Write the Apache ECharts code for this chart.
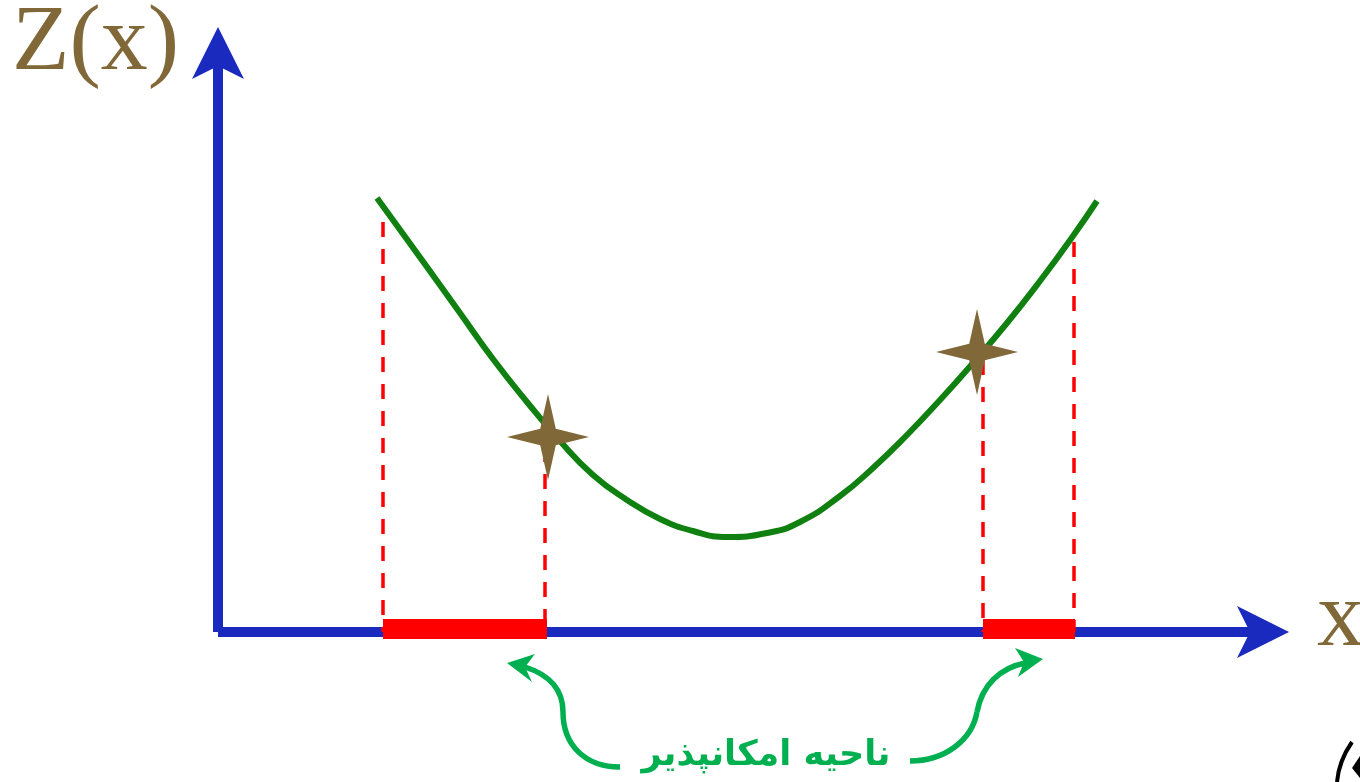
<!DOCTYPE html>
<html>
<head>
<meta charset="utf-8">
<script src="https://cdn.jsdelivr.net/npm/echarts@6/dist/echarts.min.js"></script>
<style>
  html, body { margin: 0; padding: 0; background: #fff; }
  #chart { width: 1360px; height: 782px; }
</style>
</head>
<body>
<div id="chart"></div>
<script>
// curve Z(x) (arbitrary units)
const curveX = [159, 209, 242, 275, 309, 342, 375, 409, 442, 475, 509, 549, 582, 622, 655, 689, 722, 755, 789, 822, 855, 879];
const curveY = [434, 365, 319, 273, 230, 191, 157, 132, 113, 101, 95, 99, 110, 136, 164, 197, 232, 269, 309, 351, 396, 431];

// dashed projections down to the x axis
const dropX = [165, 327, 765, 856];
const dropTop = [410, 185, 272, 390];

// infeasible zones on the x axis
const zoneStart = [165, 765];
const zoneEnd = [329, 857];

// marked points
const starX = [330, 759];
const starY = [195, 280];

const yLabel = 'Z(x)';
const xLabel = 'x';
const zoneLabel = 'ناحیه امکانپذیر';

const brown = '#806838';
const blue = '#1a29be';
const green = '#00b050';

const chart = echarts.init(document.getElementById('chart'));

const series = [];

dropX.forEach(function (x, i) {
  series.push({
    type: 'line',
    data: [[x, dropTop[i]], [x, 0]],
    symbol: 'none',
    clip: false,
    z: 3,
    lineStyle: { color: '#ff0000', width: 3.5, type: [15, 12] }
  });
});

series.push({
  type: 'line',
  data: curveX.map(function (x, i) { return [x, curveY[i]]; }),
  smooth: true,
  symbol: 'none',
  clip: false,
  z: 4,
  lineStyle: { color: '#108010', width: 6 }
});

zoneStart.forEach(function (x, i) {
  series.push({
    type: 'line',
    data: [[x, 3], [zoneEnd[i], 3]],
    symbol: 'none',
    clip: false,
    z: 5,
    lineStyle: { color: '#ff0000', width: 20, cap: 'butt' }
  });
});

series.push({
  type: 'scatter',
  data: starX.map(function (x, i) { return [x, starY[i]]; }),
  symbol: 'path://M0,-10 L1.9,-1.9 L10,0 L1.9,1.9 L0,10 L-1.9,1.9 L-10,0 L-1.9,-1.9 Z',
  symbolSize: [82, 86],
  clip: false,
  z: 6,
  itemStyle: { color: brown, opacity: 1 }
});

const arrowLine = { stroke: green, lineWidth: 5.5, fill: null };
const axisLine = {
  show: true,
  symbol: ['none', 'arrow'],
  symbolSize: [39, 52],
  symbolOffset: [0, 25],
  lineStyle: { color: blue, width: 10, cap: 'butt' }
};

chart.setOption({
  animation: false,
  backgroundColor: '#ffffff',
  grid: { left: 218, right: 96, top: 52, bottom: 150 },
  xAxis: {
    type: 'value', min: 0, max: 1046,
    axisLine: axisLine,
    axisTick: { show: false }, axisLabel: { show: false }, splitLine: { show: false }
  },
  yAxis: {
    type: 'value', min: 0, max: 580,
    axisLine: axisLine,
    axisTick: { show: false }, axisLabel: { show: false }, splitLine: { show: false }
  },
  series: series,
  graphic: [
    {
      type: 'text',
      style: { text: yLabel, x: 12, y: 44, fill: brown, font: '94px "Liberation Serif"', align: 'left', verticalAlign: 'middle' }
    },
    {
      type: 'text',
      style: { text: xLabel, x: 1317, y: 620, fill: brown, font: '94px "Liberation Serif"', align: 'left', verticalAlign: 'middle' }
    },
    {
      type: 'text',
      style: { text: zoneLabel, x: 766, y: 756, fill: green, font: 'bold 35px "DejaVu Sans"', align: 'center', verticalAlign: 'middle' }
    },
    { type: 'bezierCurve', shape: { x1: 620, y1: 767, cpx1: 585, cpy1: 767, cpx2: 563, cpy2: 745, x2: 563, y2: 712 }, style: arrowLine },
    { type: 'bezierCurve', shape: { x1: 563, y1: 712, cpx1: 563, cpy1: 690, cpx2: 550, cpy2: 675, x2: 525, y2: 667 }, style: arrowLine },
    { type: 'polygon', shape: { points: [[507, 663], [535, 654], [525, 667], [532, 682]] }, style: { fill: green } },
    { type: 'bezierCurve', shape: { x1: 910, y1: 761, cpx1: 945, cpy1: 761, cpx2: 972, cpy2: 740, x2: 977, y2: 712 }, style: arrowLine },
    { type: 'bezierCurve', shape: { x1: 977, y1: 712, cpx1: 982, cpy1: 685, cpx2: 1000, cpy2: 668, x2: 1025, y2: 663 }, style: arrowLine },
    { type: 'polygon', shape: { points: [[1043, 659], [1015, 648], [1024, 662], [1018, 677]] }, style: { fill: green } },
    { type: 'bezierCurve', shape: { x1: 1352, y1: 742, cpx1: 1343, cpy1: 755, cpx2: 1338, cpy2: 770, x2: 1337, y2: 782 }, style: { stroke: '#000', lineWidth: 4, fill: null } },
    { type: 'polygon', shape: { points: [[1352, 768], [1360, 756], [1360, 778]] }, style: { fill: '#000' } }
  ]
});
</script>
</body>
</html>
